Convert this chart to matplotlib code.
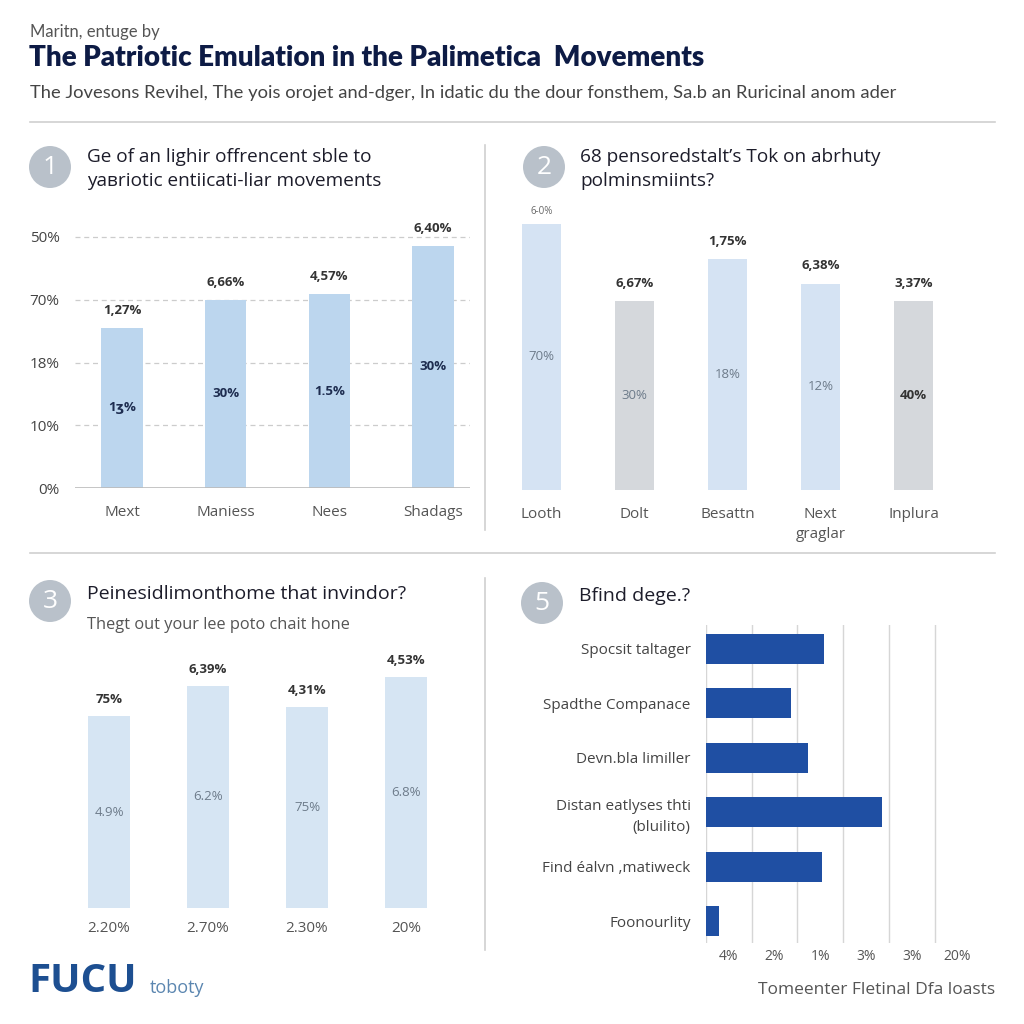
import matplotlib
matplotlib.use("Agg")
import matplotlib.pyplot as plt
from matplotlib.patches import Circle
from matplotlib.lines import Line2D

# ----------------------------
# Data
# ----------------------------
p1_cats = ["Mext", "Maniess", "Nees", "Shadags"]
p1_vals = [2.55, 3.0, 3.09, 3.86]
p1_top = ["1,27%", "6,66%", "4,57%", "6,40%"]
p1_inner = ["1ʒ%", "30%", "1.5%", "30%"]
p1_yticks = ["0%", "10%", "18%", "70%", "50%"]

p2_cats = ["Looth", "Dolt", "Besattn", "Next\ngraglar", "Inplura"]
p2_vals = [76, 54, 66, 59, 54]
p2_top = ["6-0%", "6,67%", "1,75%", "6,38%", "3,37%"]
p2_inner = ["70%", "30%", "18%", "12%", "40%"]

p3_cats = ["2.20%", "2.70%", "2.30%", "20%"]
p3_vals = [64, 74, 67, 77]
p3_top = ["75%", "6,39%", "4,31%", "4,53%"]
p3_inner = ["4.9%", "6.2%", "75%", "6.8%"]

p5_cats = ["Spocsit taltager", "Spadthe Companace", "Devn.bla limiller",
           "Distan eatlyses thti\n(bluilito)", "Find éalvn ,matiweck", "Foonourlity"]
p5_vals = [2.58, 1.86, 2.23, 3.85, 2.54, 0.29]
p5_xticks = ["4%", "2%", "1%", "3%", "3%", "20%"]

plt.rcParams['font.family'] = ['Open Sans', 'DejaVu Sans']

W = 1024.0


def fx(px):
    return px / W


def fy(py):
    return 1 - py / W


def box(x0, y0, x1, y1):
    # pixel box -> figure rect
    return [fx(x0), fy(y1), (x1 - x0) / W, (y1 - y0) / W]


fig = plt.figure(figsize=(10.24, 10.24), dpi=100)
fig.patch.set_facecolor("white")

# ----------------------------
# Header
# ----------------------------
fig.text(fx(30), fy(32), "Maritn, entuge by", fontsize=12, color="#555555",
         family=["Lato", "DejaVu Sans"], va="center")
fig.text(fx(29), fy(58), "The Patriotic Emulation in the Palimetica  Movements",
         fontsize=20, fontweight="heavy", color="#0d1b45",
         family=["Lato", "DejaVu Sans"], va="center")
fig.text(fx(30), fy(93),
         "The Jovesons Revihel, The yois orojet and-dger, In idatic du the dour "
         "fonsthem, Sa.b an Ruricinal anom ader",
         fontsize=13.2, color="#444444", family=["Lato", "DejaVu Sans"], va="center")

for ln in [((30, 995), (122, 122)), ((30, 995), (553, 553)),
           ((485, 485), (145, 530)), ((485, 485), (578, 950))]:
    fig.add_artist(Line2D([fx(ln[0][0]), fx(ln[0][1])], [fy(ln[1][0]), fy(ln[1][1])],
                          color="#d0d0d0", lw=1.2))


def badge(cx, cy, num):
    fig.add_artist(Circle((fx(cx), fy(cy)), 21 / W, transform=fig.transFigure,
                          facecolor="#b9c1ca", edgecolor="none"))
    fig.text(fx(cx), fy(cy + 1), num, fontsize=19, color="white",
             ha="center", va="center")


def clean(ax):
    for s in ax.spines.values():
        s.set_visible(False)
    ax.set_facecolor("none")


# ----------------------------
# Panel 1
# ----------------------------
badge(50, 167, "1")
fig.text(fx(87), fy(157), "Ge of an lighir offrencent sble to", fontsize=13.7,
         color="#1c1c2a", va="center")
fig.text(fx(87), fy(181), "yaвriotic entiicati-liar movements", fontsize=13.7,
         color="#1c1c2a", va="center")

ax1 = fig.add_axes(box(75, 488 - 4.3 * 62.75, 470, 488))
clean(ax1)
x1 = list(range(len(p1_cats)))
ax1.bar(x1, p1_vals, width=0.4, color="#bcd6ee", zorder=2)
ax1.set_ylim(0, 4.3)
ax1.set_xlim(-0.453, 3.357)
ax1.set_yticks(range(5))
ax1.set_yticklabels(p1_yticks, fontsize=11, color="#444444")
for y in range(1, 5):
    ax1.axhline(y, color="#cccccc", lw=0.9, ls=(0, (4, 3)), zorder=1)
ax1.axhline(0, color="#bbbbbb", lw=1.2, zorder=3)
ax1.set_xticks(x1)
ax1.set_xticklabels(p1_cats, fontsize=11, color="#555555")
ax1.tick_params(length=0, axis="y", pad=11)
ax1.tick_params(length=0, axis="x", pad=12)
for i, v in enumerate(p1_vals):
    ax1.annotate(p1_top[i], (i, v), xytext=(0, 8), textcoords="offset points",
                 ha="center", va="bottom", fontsize=9.5, fontweight="bold", color="#333333")
    ax1.text(i, v / 2, p1_inner[i], ha="center", va="center", fontsize=9.5,
             fontweight="bold", color="#1e2d50")

# ----------------------------
# Panel 2
# ----------------------------
badge(544, 167, "2")
fig.text(fx(580), fy(157), "68 pensoredstalt’s Tok on abrhuty", fontsize=13.7,
         color="#1c1c2a", va="center")
fig.text(fx(580), fy(181), "polminsmiints?", fontsize=13.7, color="#1c1c2a", va="center")

ax2 = fig.add_axes(box(495, 490 - 80 * 3.5, 960, 490))
clean(ax2)
x2 = list(range(len(p2_cats)))
p2_colors = ["#d5e3f3", "#d5d8dc", "#d5e3f3", "#d5e3f3", "#d5d8dc"]
ax2.bar(x2, p2_vals, width=0.41, color=p2_colors)
ax2.set_ylim(0, 80)
ax2.set_xlim(-0.5, 4.5)
ax2.set_yticks([])
ax2.set_xticks(x2)
ax2.set_xticklabels(p2_cats, fontsize=11, color="#555555", linespacing=1.5)
ax2.tick_params(length=0, axis="x", pad=12)
for i, v in enumerate(p2_vals):
    if i == 0:
        ax2.annotate(p2_top[i], (i, v), xytext=(0, 5), textcoords="offset points",
                     ha="center", va="bottom", fontsize=7, color="#666666")
    else:
        ax2.annotate(p2_top[i], (i, v), xytext=(0, 8), textcoords="offset points",
                     ha="center", va="bottom", fontsize=9.5, fontweight="bold",
                     color="#333333")
    bold = i == 4
    ax2.text(i, v / 2, p2_inner[i], ha="center", va="center", fontsize=9.5,
             fontweight="bold" if bold else "normal",
             color="#333333" if bold else "#6d7b8a")

# ----------------------------
# Panel 3
# ----------------------------
badge(50, 601, "3")
fig.text(fx(87), fy(594), "Peinesidlimonthome that invindor?", fontsize=14,
         color="#1c1c2a", va="center")
fig.text(fx(87), fy(625), "Thegt out your lee poto chait hone", fontsize=11.8,
         color="#555555", va="center")

ax3 = fig.add_axes(box(60, 908 - 85 * 3.0, 460, 908))
clean(ax3)
x3 = list(range(len(p3_cats)))
ax3.bar(x3, p3_vals, width=0.42, color="#d6e5f3")
ax3.set_ylim(0, 85)
ax3.set_xlim(-0.495, 3.545)
ax3.set_yticks([])
ax3.set_xticks(x3)
ax3.set_xticklabels(p3_cats, fontsize=11, color="#555555")
ax3.tick_params(length=0, axis="x", pad=9)
for i, v in enumerate(p3_vals):
    ax3.annotate(p3_top[i], (i, v), xytext=(0, 7), textcoords="offset points",
                 ha="center", va="bottom", fontsize=9.5, fontweight="bold", color="#333333")
    ax3.text(i, v / 2, p3_inner[i], ha="center", va="center", fontsize=9.5,
             color="#6d7b8a")

# ----------------------------
# Panel 5
# ----------------------------
badge(542, 603, "5")
fig.text(fx(579), fy(596), "Bfind dege.?", fontsize=14, color="#1c1c2a", va="center")

ax5 = fig.add_axes(box(706, 625, 706 + 6 * 45.7, 943))
clean(ax5)
y5 = list(range(len(p5_cats)))
ax5.barh(y5, p5_vals, height=0.55, color="#1f4fa3", zorder=2)
ax5.set_ylim(5.4, -0.44)
ax5.set_xlim(0, 6)
for g in range(6):
    ax5.axvline(g, color="#d6d6d6", lw=1.0, zorder=1)
ax5.set_yticks(y5)
ax5.set_yticklabels(p5_cats, fontsize=11, color="#444444", linespacing=1.5)
ax5.set_xticks([g + 0.5 for g in range(6)])
ax5.set_xticklabels(p5_xticks, fontsize=10, color="#555555")
ax5.tick_params(length=0, axis="y", pad=11)
ax5.tick_params(length=0, axis="x", pad=4)

# ----------------------------
# Footer
# ----------------------------
fig.text(fx(28), fy(982), "FUCU", fontsize=29, fontweight="bold", color="#1d4f91",
         va="center")
fig.text(fx(150), fy(988), "toboty", fontsize=13, color="#5b86b0", va="center")
fig.text(fx(995), fy(990), "Tomeenter Fletinal Dfa loasts", fontsize=12.5,
         color="#555555", ha="right", va="center")

fig.savefig("out.png", dpi=100, facecolor="white")
